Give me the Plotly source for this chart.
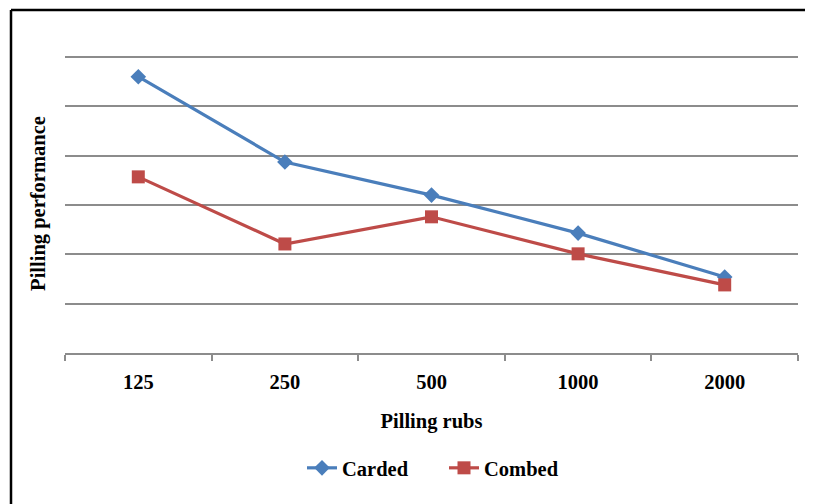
import plotly.graph_objects as go

categories = ["125", "250", "500", "1000", "2000"]
carded = [5.6, 3.87, 3.2, 2.43, 1.54]
combed = [3.57, 2.21, 2.76, 2.01, 1.38]

OFF = 8  # default page body margin
W, H = 813 - OFF, 504 - OFF
YMAX = 6.06
# plot area in page pixels (value 6 sits at y=57, 0 at y=353)
PL, PR, PB = 65, 798, 353
PT = round(PB - 296 * YMAX / 6)
L, R, T, B = PL - OFF, W - (PR - OFF), PT - OFF, H - (PB - OFF)
pw, ph = PR - PL, PB - PT

def px(x):
    return (x - PL) / pw

def py(y):
    return (PB - y) / ph

FONT = "Liberation Serif"
GRID = "#8c8c8c"
FS = 20.5

fig = go.Figure()
fig.add_trace(go.Scatter(
    x=categories, y=carded, name="Carded", mode="lines+markers",
    line=dict(color="#4A7EBB", width=3.2),
    marker=dict(symbol="diamond", size=12, color="#4A7EBB"),
))
fig.add_trace(go.Scatter(
    x=categories, y=combed, name="Combed", mode="lines+markers",
    line=dict(color="#BE4B48", width=3.2),
    marker=dict(symbol="square", size=13, color="#BE4B48"),
))

fig.update_layout(
    width=W, height=H,
    margin=dict(l=L, r=R, t=T, b=B, autoexpand=False),
    paper_bgcolor="white", plot_bgcolor="white",
    font=dict(family=FONT, size=FS, color="black"),
    showlegend=True,
    legend=dict(orientation="h", x=px(302), xanchor="left", y=py(468), yanchor="middle",
                font=dict(family=FONT, size=FS, weight="bold"), itemwidth=30,
                entrywidth=97, entrywidthmode="pixels",
                bgcolor="rgba(0,0,0,0)"),
    xaxis=dict(
        type="category", range=[-0.5, 4.5],
        showline=True, linecolor=GRID, linewidth=1.5,
        ticks="outside", tickson="boundaries", ticklen=6, tickcolor=GRID, tickwidth=1.5,
        showgrid=False, ticklabelstandoff=10,
        tickfont=dict(family=FONT, size=FS, weight="bold"),
        title=dict(text="<b>Pilling rubs</b>", standoff=21,
                   font=dict(family=FONT, size=FS)),
        fixedrange=True,
    ),
    yaxis=dict(
        range=[0, YMAX], tickvals=[1, 2, 3, 4, 5, 6], showticklabels=False,
        showgrid=True, gridcolor=GRID, gridwidth=1.5,
        zeroline=False, showline=False, ticks="",
        title=dict(text="<b>Pilling performance</b>", standoff=12,
                   font=dict(family=FONT, size=FS)),
        fixedrange=True,
    ),
    shapes=[
        dict(type="line", xref="paper", yref="paper",
             x0=px(11), x1=1.2, y0=py(10), y1=py(10),
             line=dict(color="black", width=2.5)),
        dict(type="line", xref="paper", yref="paper",
             x0=px(11), x1=px(11), y0=py(10), y1=-0.7,
             line=dict(color="black", width=2.5)),
    ],
)

fig.write_html("out.html")
